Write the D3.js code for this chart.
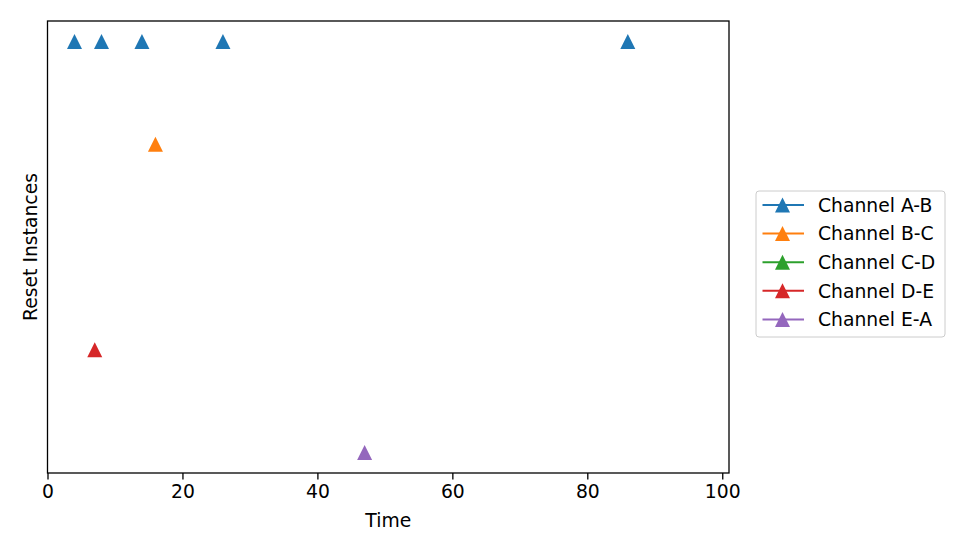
<!DOCTYPE html>
<html>
<head>
<meta charset="utf-8">
<script src="https://cdn.jsdelivr.net/npm/d3@7"></script>
<style>
body { margin: 0; background: #fff; }
text { font-family: "DejaVu Sans", sans-serif; fill: #000; }
</style>
</head>
<body>
<svg class="chart"></svg>
<script>
var channels = ["Channel A-B", "Channel B-C", "Channel C-D", "Channel D-E", "Channel E-A"];
var colors = ["#1f77b4", "#ff7f0e", "#2ca02c", "#d62728", "#9467bd"];
var abTimes = [4, 8, 14, 26, 86];
var bcTimes = [16];
var cdTimes = [];
var deTimes = [7];
var eaTimes = [47];
var xTicks = [0, 20, 40, 60, 80, 100];

var times = [abTimes, bcTimes, cdTimes, deTimes, eaTimes];

var margin = {top: 21, right: 240, bottom: 81, left: 47.5};
var width = 969 - margin.left - margin.right;
var height = 554 - margin.top - margin.bottom;
var fontSize = 18.75;

var x = d3.scaleLinear()
	.domain([0, 101])
	.range([0, width]);

// channel index, first channel at the top
var y = d3.scaleLinear()
	.domain([-0.2, 4.2])
	.range([0, height]);

var svg = d3.select(".chart")
	.attr("width", 969)
	.attr("height", 554);

var chart = svg.append("g")
	.attr("transform", "translate(" + margin.left + "," + margin.top + ")");

var tri = "M0,-7.5L-7.5,7.5L7.5,7.5Z";

var points = [];
times.forEach(function(ts, i) {
	ts.forEach(function(t) { points.push({t: t, c: i}); });
});

chart.selectAll(".pt")
	.data(points)
	.enter()
	.append("path")
	.attr("class", "pt")
	.attr("d", tri)
	.attr("fill", d => colors[d.c])
	.attr("transform", d => "translate(" + x(d.t) + "," + y(d.c) + ")");

var xAxis = d3.axisBottom(x)
	.tickValues(xTicks)
	.tickSize(6.5)
	.tickPadding(5);

var gx = chart.append("g")
	.attr("transform", "translate(0," + height + ")")
	.call(xAxis);
gx.select(".domain").remove();
gx.selectAll("line").attr("stroke", "#000").attr("stroke-width", 1.3);
gx.selectAll("text").style("font-size", fontSize + "px");

// frame
chart.append("rect")
	.attr("width", width)
	.attr("height", height)
	.attr("fill", "none")
	.attr("stroke", "#000")
	.attr("stroke-width", 1.3);

chart.append("text")
	.attr("x", width / 2)
	.attr("y", height + 53.7)
	.attr("text-anchor", "middle")
	.style("font-size", fontSize + "px")
	.text("Time");

chart.append("text")
	.attr("transform", "translate(" + (37 - margin.left) + "," + (height / 2) + ") rotate(-90)")
	.attr("text-anchor", "middle")
	.style("font-size", fontSize + "px")
	.text("Reset Instances");

// legend
var legend = svg.append("g")
	.attr("transform", "translate(756,191)");

legend.append("rect")
	.attr("width", 189)
	.attr("height", 146)
	.attr("rx", 3)
	.attr("fill", "#fff")
	.attr("fill-opacity", 0.8)
	.attr("stroke", "#ccc")
	.attr("stroke-width", 1);

var rows = legend.selectAll(".row")
	.data(channels)
	.enter()
	.append("g")
	.attr("class", "row")
	.attr("transform", (d, i) => "translate(0," + (14 + i * 28.6) + ")");

rows.append("line")
	.attr("x1", 6.5)
	.attr("x2", 48)
	.attr("stroke", (d, i) => colors[i])
	.attr("stroke-width", 2);

rows.append("path")
	.attr("d", tri)
	.attr("fill", (d, i) => colors[i])
	.attr("transform", "translate(26.5,0)");

rows.append("text")
	.attr("x", 62)
	.attr("y", 6.8)
	.style("font-size", fontSize + "px")
	.text(d => d);
</script>
</body>
</html>
